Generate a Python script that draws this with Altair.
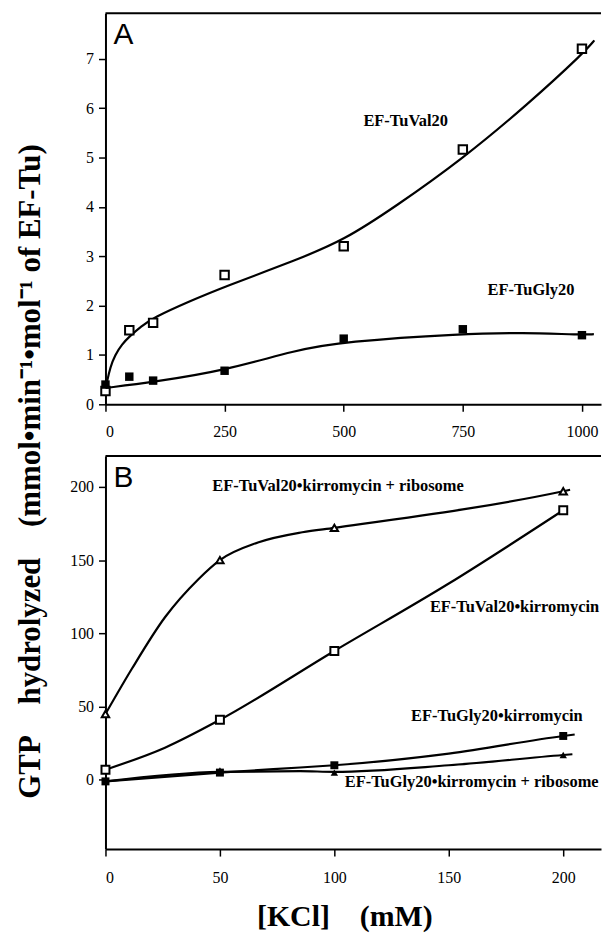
import altair as alt
import pandas as pd

# ---------------- Panel A data ----------------
a_kcl = [0, 50, 100, 250, 500, 750, 1000]
a_val20 = [0.27, 1.50, 1.65, 2.62, 3.20, 5.16, 7.20]
a_gly20 = [0.40, 0.56, 0.48, 0.68, 1.33, 1.52, 1.40]

# fitted curves as drawn in the figure
a_val20_fit_x = [0, 3, 10, 20, 35, 50, 75, 100, 175, 250, 400, 500, 608, 748, 887, 1006, 1026]
a_val20_fit_y = [0.30, 0.45, 0.75, 1.00, 1.22, 1.37, 1.58, 1.75, 2.08, 2.38, 2.92, 3.32, 4.00, 4.96, 6.08, 7.14, 7.37]
a_gly20_fit_x = [0, 100, 250, 400, 500, 750, 875, 1000, 1025]
a_gly20_fit_y = [0.33, 0.45, 0.68, 1.10, 1.27, 1.43, 1.45, 1.41, 1.42]

a_labels = ["EF-TuVal20", "EF-TuGly20"]
a_label_x = [630, 893]
a_label_y = [5.74, 2.32]

# ---------------- Panel B data ----------------
b_kcl = [0, 50, 100, 200]
b_val_rib = [45, 150, 172, 197]
b_val = [7, 41, 88, 184]
b_gly = [-1, 5, 10, 30]
b_gly_rib = [-1, 6.5, 5, 17]

b_val_rib_fit_x = [0, 11.6, 26, 40.6, 50, 66.6, 86, 100, 200, 203]
b_val_rib_fit_y = [45, 76, 111, 137, 150, 162, 169, 172, 197, 198]
b_val_fit_x = [0, 26, 50, 100, 150, 200]
b_val_fit_y = [7, 22, 41, 88, 134, 184]
b_gly_fit_x = [0, 50, 85, 100, 150, 200, 205]
b_gly_fit_y = [-1, 5, 8.5, 10, 18, 30, 31]
b_gly_rib_fit_x = [0, 50, 85, 100, 150, 200, 204]
b_gly_rib_fit_y = [-1, 5.5, 6, 5.5, 10, 17, 17.5]

b_labels = ["EF-TuVal20•kirromycin + ribosome", "EF-TuVal20•kirromycin",
            "EF-TuGly20•kirromycin", "EF-TuGly20•kirromycin + ribosome"]
b_label_x = [101.6, 178.7, 171, 160]
b_label_y = [200.7, 118, 43.3, -1.7]

SERIF = "Liberation Serif"
W = 498
HA = 393
HB = 395
SP = "\u2002\u2002"

# ---------------- Panel A ----------------
xa = alt.X("x:Q", scale=alt.Scale(domain=[0, 1040], nice=False, zero=False),
           axis=alt.Axis(values=[0, 250, 500, 750, 1000], format="d", title=None, grid=False,
                         tickSize=7, labelPadding=12, labelFontSize=16, labelFont=SERIF,
                         domainWidth=2, tickWidth=1.5, domainColor="black", tickColor="black",
                         labelColor="black"))
ya = alt.Y("y:Q", scale=alt.Scale(domain=[0, 7.92], nice=False, zero=False),
           axis=alt.Axis(values=[0, 1, 2, 3, 4, 5, 6, 7], grid=False,
                         title="GTP" + SP + "hydrolyzed" + SP + "(mmol•min⁻¹•mol⁻¹ of EF-Tu)",
                         titleFont=SERIF, titleFontSize=31, titleFontWeight="bold",
                         titleAngle=270, titleX=-75, titleY=460, titleAlign="center",
                         titleBaseline="middle", titleColor="black",
                         tickSize=7, labelPadding=5, labelFontSize=16, labelFont=SERIF,
                         domainWidth=2, tickWidth=1.5, domainColor="black", tickColor="black",
                         labelColor="black"))


def series(xs, ys, fx, fy, shape, filled, x_enc, y_enc, size, interp="monotone"):
    crv = pd.DataFrame({"x": fx, "y": fy})
    pts = pd.DataFrame({"x": xs, "y": ys})
    line = alt.Chart(crv).mark_line(color="black", strokeWidth=2.2,
                                    interpolate=interp).encode(x=x_enc, y=y_enc)
    point = alt.Chart(pts).mark_point(shape=shape, filled=filled, size=size,
                                      color="black", fill="black" if filled else "white",
                                      fillOpacity=1, opacity=1,
                                      strokeWidth=2).encode(x=x_enc, y=y_enc)
    return [line, point]


def frame_top(width):
    return alt.Chart(pd.DataFrame({"a": [0]})).mark_rule(color="black", strokeWidth=2).encode(
        x=alt.value(0), x2=alt.value(width), y=alt.value(0))


def panel_letter(letter):
    return alt.Chart(pd.DataFrame({"t": [letter]})).mark_text(
        font="Liberation Sans", fontSize=30, align="left", baseline="alphabetic",
        color="black").encode(x=alt.value(8), y=alt.value(31), text="t:N")


def labels(texts, lx, ly, x_enc, y_enc):
    df = pd.DataFrame({"t": texts, "x": lx, "y": ly})
    return alt.Chart(df).mark_text(font=SERIF, fontSize=16.5, fontWeight="bold",
                                   align="center", baseline="middle",
                                   color="black").encode(x=x_enc, y=y_enc, text="t:N")


layers_a = [frame_top(W), panel_letter("A")]
layers_a += series(a_kcl, a_val20, a_val20_fit_x, a_val20_fit_y, "square", False, xa, ya, 72, "basis")
layers_a += series(a_kcl, a_gly20, a_gly20_fit_x, a_gly20_fit_y, "square", True, xa, ya, 72, "basis")
layers_a.append(labels(a_labels, a_label_x, a_label_y, xa, ya))
panel_a = alt.layer(*layers_a).properties(width=W, height=HA)

# ---------------- Panel B ----------------
xb = alt.X("x:Q", scale=alt.Scale(domain=[0, 216.5], nice=False, zero=False),
           axis=alt.Axis(values=[0, 50, 100, 150, 200], grid=False,
                         title="[KCl]" + SP + "(mM)", titleFont=SERIF, titleFontSize=30,
                         titleFontWeight="bold", titleColor="black",
                         titleX=240, titleY=68, titleAlign="center", titleBaseline="middle",
                         tickSize=7, labelPadding=14, labelFontSize=16, labelFont=SERIF,
                         domainWidth=2, tickWidth=1.5, domainColor="black", tickColor="black",
                         labelColor="black"))
yb = alt.Y("y:Q", scale=alt.Scale(domain=[-47.2, 221], nice=False, zero=False),
           axis=alt.Axis(values=[0, 50, 100, 150, 200], grid=False, title=None,
                         tickSize=7, labelPadding=5, labelFontSize=16, labelFont=SERIF,
                         domainWidth=2, tickWidth=1.5, domainColor="black", tickColor="black",
                         labelColor="black"))

layers_b = [frame_top(W), panel_letter("B")]
layers_b += series(b_kcl, b_val_rib, b_val_rib_fit_x, b_val_rib_fit_y, "triangle-up", False, xb, yb, 55)
layers_b += series(b_kcl, b_val, b_val_fit_x, b_val_fit_y, "square", False, xb, yb, 64)
layers_b += series(b_kcl, b_gly, b_gly_fit_x, b_gly_fit_y, "square", True, xb, yb, 64)
layers_b += series(b_kcl, b_gly_rib, b_gly_rib_fit_x, b_gly_rib_fit_y, "triangle-up", True, xb, yb, 55)
layers_b.append(labels(b_labels, b_label_x, b_label_y, xb, yb))
panel_b = alt.layer(*layers_b).properties(width=W, height=HB)

chart = alt.vconcat(panel_a, panel_b, spacing=52, bounds="flush").properties(
    padding={"left": 14, "top": 10, "right": 0, "bottom": 0},
    background="white",
).configure_view(stroke=None)

chart.save("out.html", embed_options={"renderer": "svg", "actions": False})
